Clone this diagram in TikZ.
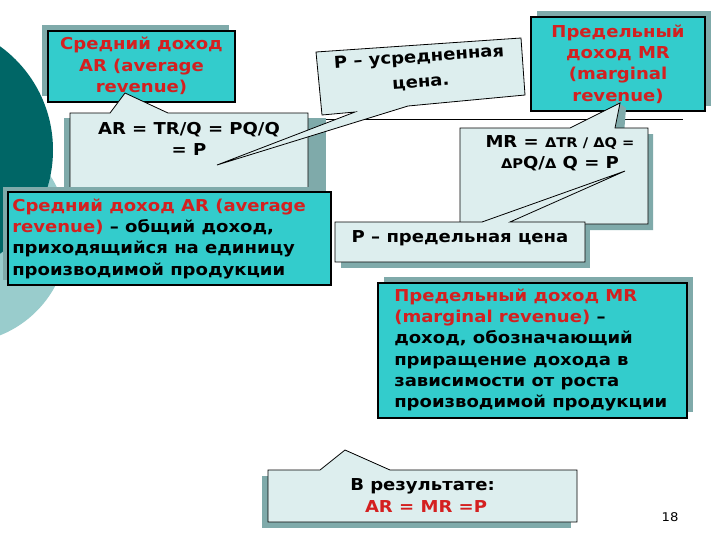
\documentclass[tikz,border=0pt]{standalone}
\usepackage{fontspec}
\setmainfont[FakeStretch=1.1]{DejaVu Sans}
\begin{document}
\begin{tikzpicture}[x=0.75pt,y=-0.75pt,
  font=\bfseries\fontsize{12.3}{16}\selectfont,
  tealbox/.style={fill=teal1,draw=black,line width=0.8pt},
  lightbox/.style={fill=light1,draw=black,line width=0.6pt},
  shad/.style={fill=shad1,draw=none}]
\definecolor{teal1}{HTML}{33CCCC}
\definecolor{light1}{HTML}{DDEEEE}
\definecolor{shad1}{HTML}{7FAAAA}
\definecolor{redt}{HTML}{D42020}
\definecolor{darkc}{HTML}{006666}
\definecolor{lightc}{HTML}{99CCCC}
\useasboundingbox (0,0) rectangle (720,540);
\fill[white] (0,0) rectangle (720,540);
% circles
\begin{scope}
\clip (0,0) rectangle (720,540);
\fill[lightc] (-40,235) circle (108);
\fill[darkc] (-75,150) circle (128);
\end{scope}
% horizontal line
\draw[line width=0.6pt] (308,119) -- (683,119);
% box 1
\fill[shad] (42,25) rectangle (229,96);
\draw[tealbox] (48,31) rectangle (235,102);
\node[align=center,text=redt] (b1) at (141.5,66) {Средний доход\\AR (average\\revenue)};
% callout AR
\fill[shad] (64,118) rectangle (326,196);
\draw[lightbox] (70,113) -- (110,113) -- (125,93) -- (168,113) -- (308,113) -- (308,192) -- (70,192) -- cycle;
\node[align=center] (ar) at (189,139) {AR = TR/Q = PQ/Q\\= P};
% box3
\fill[shad] (3,187) rectangle (326,280);
\draw[tealbox] (8,192) rectangle (331,285);
\node[align=left,anchor=west,inner xsep=0pt] (b3) at (12,238.5) {\textcolor{redt}{Средний доход AR (average}\\\textcolor{redt}{revenue)} – общий доход,\\приходящийся на единицу\\производимой продукции};
% P - usrednennaya callout
\draw[lightbox] (316,52) -- (521,38) -- (525,95) -- (408,106) -- (217,165) -- (355,112) -- (322,115) -- cycle;
\node[rotate=4,align=center,font=\bfseries\fontsize{12.3}{19}\selectfont] (pu) at (420,70) {P – усредненная\\цена.};
% box MR
\fill[shad] (537,11) rectangle (711,106);
\draw[tealbox] (531,17) rectangle (705,111);
\node[align=center,text=redt] (bmr) at (618,64) {Предельный\\доход MR\\(marginal\\revenue)};
% MR callout
\fill[shad] (616,101) -- (626,108) -- (624,134) -- (653,134) -- (653,230) -- (466,230) -- (466,134) -- (616,134) -- cycle;
\fill[shad] (545,222) -- (633,174) -- (600,222) -- cycle;
\draw[lightbox] (460,128) -- (570,128) -- (620,103) -- (615,128) -- (648,128) -- (648,224) -- (460,224) -- cycle;
\node[align=center] (mr) at (560,153) {MR = {\fontsize{10}{16}\selectfont ΔTR / ΔQ =}\\{\fontsize{10}{16}\selectfont ΔP}Q/{\fontsize{10}{16}\selectfont Δ} Q = P};
% P predel'naya
\fill[shad] (341,228) rectangle (590,268);
\draw[lightbox] (335,222) -- (482,222) -- (625,171) -- (510,222) -- (585,222) -- (585,262) -- (335,262) -- cycle;
\node (pp) at (460,238) {P – предельная цена};
% box MR def
\fill[shad] (384,277) rectangle (693,412);
\draw[tealbox] (378,283) rectangle (687,418);
\node[align=left,anchor=west,inner xsep=0pt] (bd) at (394,350) {\textcolor{redt}{Предельный доход  MR}\\\textcolor{redt}{(marginal revenue)} –\\доход, обозначающий\\приращение дохода в\\зависимости от роста\\производимой продукции};
% result callout
\fill[shad] (262,476) rectangle (571,528);
\draw[lightbox] (268,470) -- (320,470) -- (345,450) -- (390,470) -- (577,470) -- (577,522) -- (268,522) -- cycle;
\node[align=left,anchor=north west,inner xsep=0pt] (res) at (350,474) {В результате:\\\textcolor{redt}{\hspace{0.9em}AR = MR =P}};
\node[font=\fontsize{9}{11}\selectfont] (num) at (670,517) {18};
\end{tikzpicture}
\end{document}
